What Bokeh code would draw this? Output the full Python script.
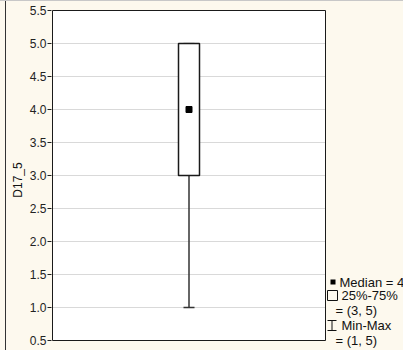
from bokeh.plotting import figure
from bokeh.models import Range1d, FixedTicker
from bokeh.core.properties import value
from bokeh.embed import file_html
from bokeh.resources import INLINE

# ---- data ----
variable = ["D17_5"]
median = [4.0]
q1 = [3.0]
q3 = [5.0]
vmin = [1.0]
vmax = [5.0]
y_ticks = [0.5, 1.0, 1.5, 2.0, 2.5, 3.0, 3.5, 4.0, 4.5, 5.0, 5.5]
y_tick_labels = ["0.5", "1.0", "1.5", "2.0", "2.5", "3.0", "3.5", "4.0", "4.5", "5.0", "5.5"]
legend_texts = ["Median = 4", "25%-75%", "= (3, 5)", "Min-Max", "= (1, 5)"]

# ---- layout (pixels) ----
W, H = 403, 350
PL, PR, PT, PB = 52, 325, 10, 340          # plot area box
Y0, Y1 = y_ticks[0], y_ticks[-1]
PXU = (PB - PT) / (Y1 - Y0)                 # px per y unit
PXX = (PR - PL)                             # px per x unit (plot area = 0..1)
FONT = "Liberation Sans"
CREAM = "#fdf9ee"


def px_x(px):
    return (px - PL) / PXX


def px_y(py):
    return Y1 - (py - PT) / PXU


FL, FT = PL - 1, PT - 1
page_bg = ("linear-gradient(to bottom, #c8c8c8 0px, #c8c8c8 1px, transparent 1px), "
           "linear-gradient(to right, " + CREAM + " 0px, " + CREAM + " 5px, #333 5px, #333 6px, "
           + CREAM + " 6px)")
p = figure(width=W, height=H, output_backend="svg", toolbar_location=None,
           x_range=Range1d(px_x(FL), px_x(W)), y_range=Range1d(px_y(H), px_y(FT)),
           min_border_left=FL, min_border_right=0,
           min_border_top=FT, min_border_bottom=0,
           styles={"background": page_bg})
p.background_fill_color = CREAM
p.border_fill_color = None
p.outline_line_color = None
p.xaxis.visible = False
p.xgrid.visible = False
p.ygrid.visible = False

ax = p.yaxis[0]
ax.ticker = FixedTicker(ticks=y_ticks)
ax.major_label_overrides = {t: l for t, l in zip(y_ticks, y_tick_labels)}
ax.minor_tick_line_color = None
ax.major_tick_in = 0
ax.major_tick_out = 4
ax.major_tick_line_color = "#222"
ax.axis_line_color = None
ax.major_label_text_font = FONT
ax.major_label_text_font_size = "12px"
ax.major_label_text_color = "#222"
ax.major_label_standoff = 1
ax.axis_label = variable[0]
ax.axis_label_text_font = FONT
ax.axis_label_text_font_size = "12px"
ax.axis_label_text_font_style = "normal"
ax.axis_label_text_color = "#111"
ax.axis_label_standoff = 2

# plot area
p.quad(left=[0], right=[1], bottom=[Y0], top=[Y1], fill_color="white", line_color=None)
p.segment(x0=[0] * len(y_ticks), y0=y_ticks, x1=[1] * len(y_ticks), y1=y_ticks,
          line_color="#d9d9d9", line_width=1)
p.quad(left=[0], right=[1], bottom=[Y0], top=[Y1], fill_alpha=0,
       line_color="#1a1a1a", line_width=1)

xc = [0.5]
half_box = 10.5 / PXX
half_cap = 5.5 / PXX

# whisker
p.segment(x0=xc, y0=vmin, x1=xc, y1=q1, line_color="#333", line_width=1.5)
p.segment(x0=[xc[0] - half_cap], y0=vmin, x1=[xc[0] + half_cap], y1=vmin,
          line_color="#333", line_width=1.5)
p.segment(x0=[xc[0] - half_cap], y0=vmax, x1=[xc[0] + half_cap], y1=vmax,
          line_color="#aaa", line_width=1.5)
# box
p.quad(left=[xc[0] - half_box], right=[xc[0] + half_box], bottom=q1, top=q3,
       fill_color="white", line_color="#1a1a1a", line_width=1.5)
# median
p.scatter(x=xc, y=median, marker="square", size=6, color="black")

# ---- legend (right of plot area) ----
p.quad(left=[px_x(330)], right=[px_x(335)], top=[px_y(279)], bottom=[px_y(284)],
       fill_color="black", line_color=None)
p.quad(left=[px_x(327)], right=[px_x(337)], top=[px_y(290)], bottom=[px_y(300)],
       fill_alpha=0, line_color="#111", line_width=1)
ibx = px_x(331.5)
p.segment(x0=[ibx, px_x(327), px_x(327)], y0=[px_y(320), px_y(320), px_y(330)],
          x1=[ibx, px_x(336), px_x(336)], y1=[px_y(330), px_y(320), px_y(330)],
          line_color="#111", line_width=1)

tx = [px_x(v) for v in (339, 341, 335, 341, 335)]
ty = [px_y(v) for v in (281.5, 295, 310, 325, 340)]
p.text(x=tx, y=ty, text=legend_texts, text_font=value(FONT), text_font_size="13px",
       text_color="#111", text_align="left", text_baseline="middle")

open("out.html", "w").write(file_html(p, INLINE))
